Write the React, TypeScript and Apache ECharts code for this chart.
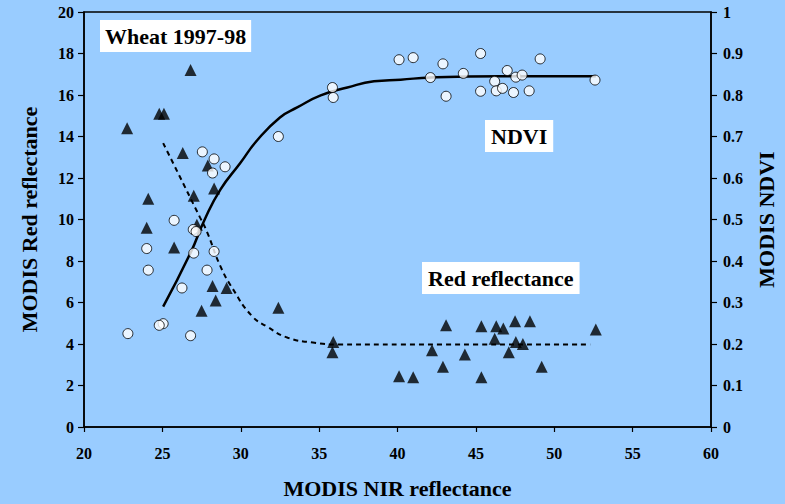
import React, { useEffect, useRef } from "react";
import * as echarts from "echarts";

// Red reflectance (triangles), left axis: [NIR, Red]
const redPoints: [number, number][] = [
  [22.75, 14.4], [24.8, 15.1], [25.1, 15.1], [26.8, 17.2], [24.1, 11.0],
  [24.0, 9.6], [26.3, 13.2], [25.75, 8.65], [27.9, 12.6], [28.3, 11.5],
  [27.0, 11.15], [27.2, 9.75], [28.2, 6.8], [29.1, 6.7], [28.4, 6.1],
  [27.5, 5.6], [32.4, 5.75], [35.9, 4.1], [35.85, 3.6], [40.1, 2.45],
  [41.0, 2.4], [42.2, 3.7], [43.1, 4.9], [42.9, 2.9], [44.3, 3.5],
  [45.35, 4.85], [45.35, 2.4], [46.2, 4.25], [46.3, 4.85], [46.75, 4.75],
  [47.1, 3.6], [47.5, 5.1], [47.55, 4.1], [48.0, 4.0], [48.45, 5.1],
  [49.2, 2.9], [52.65, 4.7],
];

// NDVI (circles), right axis: [NIR, NDVI]
const ndviPoints: [number, number][] = [
  [40.1, 0.885], [35.85, 0.818], [35.9, 0.794], [32.4, 0.70], [27.55, 0.663],
  [28.3, 0.646], [29.0, 0.627], [28.2, 0.612], [25.75, 0.498], [26.97, 0.476],
  [27.15, 0.471], [24.0, 0.43], [27.0, 0.419], [28.3, 0.423], [24.1, 0.378],
  [27.85, 0.378], [26.25, 0.335], [25.05, 0.249], [24.8, 0.245], [22.8, 0.225],
  [26.8, 0.22], [41.0, 0.89], [42.9, 0.875], [42.1, 0.842], [43.1, 0.797],
  [44.2, 0.852], [45.3, 0.90], [45.3, 0.809], [46.2, 0.833], [46.3, 0.81],
  [46.7, 0.816], [47.0, 0.859], [47.4, 0.806], [47.55, 0.843], [47.95, 0.848],
  [48.4, 0.81], [49.1, 0.887], [52.6, 0.836],
];

// NDVI fitted curve (solid), right axis
const ndviFit: [number, number][] = [
  [25.05, 0.29], [26.8, 0.42], [27.7, 0.50], [28.7, 0.572], [29.97, 0.636],
  [31.05, 0.691], [32.5, 0.746], [33.6, 0.77], [35.1, 0.799], [36.8, 0.818],
  [38.5, 0.833], [40.2, 0.837], [42.1, 0.842], [46.6, 0.845], [52.65, 0.845],
];

// Red reflectance fitted curve (dashed), left axis
const redFit: [number, number][] = [
  [25.05, 13.68], [27.4, 10.1], [27.86, 9.38], [28.7, 7.75], [29.5, 6.65],
  [30.7, 5.36], [31.7, 4.83], [33.0, 4.3], [34.6, 4.07], [36.35, 3.97],
  [40.2, 3.97], [52.3, 3.97],
];

const xTitle = "MODIS NIR reflectance";
const yLeftTitle = "MODIS Red reflectance";
const yRightTitle = "MODIS NDVI";
const labelWheat = "Wheat 1997-98";
const labelNdvi = "NDVI";
const labelRed = "Red reflectance";

const FONT = "'Liberation Serif', 'Times New Roman', serif";

export default function App() {
  const ref = useRef<HTMLDivElement>(null);

  useEffect(() => {
    document.body.style.margin = "0";
    if (!ref.current) return;
    const chart = echarts.init(ref.current, undefined, { renderer: "svg" });
    const axisLabel = {
      fontFamily: FONT,
      fontWeight: "bold" as const,
      fontSize: 16,
      color: "#000",
    };
    const nameStyle = {
      fontFamily: FONT,
      fontWeight: "bold" as const,
      fontSize: 22,
      color: "#000",
    };
    const axisLine = { show: true, lineStyle: { color: "#000", width: 1.5 } };
    const boxFont = `bold 22px ${FONT}`;
    chart.setOption({
      animation: false,
      backgroundColor: "#99CCFF",
      grid: {
        left: 84,
        right: 74,
        top: 12,
        bottom: 72,
        show: true,
        borderColor: "#000",
        borderWidth: 1.5,
        backgroundColor: "transparent",
      },
      xAxis: {
        type: "value",
        min: 20,
        max: 60,
        interval: 5,
        name: xTitle,
        nameLocation: "middle",
        nameGap: 50,
        nameTextStyle: nameStyle,
        axisLine,
        axisTick: { show: true, length: 5, lineStyle: { color: "#000", width: 1.2 } },
        axisLabel: { ...axisLabel, margin: 18 },
        splitLine: { show: false },
      },
      yAxis: [
        {
          type: "value",
          min: 0,
          max: 20,
          interval: 2,
          name: yLeftTitle,
          nameLocation: "middle",
          nameGap: 44,
          nameTextStyle: nameStyle,
          axisLine,
          axisTick: { show: true, length: 6, lineStyle: { color: "#000", width: 1.2 } },
          axisLabel: { ...axisLabel, margin: 10 },
          splitLine: { show: false },
        },
        {
          type: "value",
          min: 0,
          max: 1,
          interval: 0.1,
          position: "right",
          name: yRightTitle,
          nameLocation: "middle",
          nameGap: 44,
          nameRotate: 90,
          nameTextStyle: nameStyle,
          axisLine,
          axisTick: { show: true, length: 6, lineStyle: { color: "#000", width: 1.2 } },
          axisLabel: { ...axisLabel, margin: 12 },
          splitLine: { show: false },
        },
      ],
      series: [
        {
          type: "line",
          yAxisIndex: 1,
          data: ndviFit,
          smooth: true,
          showSymbol: false,
          symbol: "none",
          lineStyle: { color: "#000", width: 2.5 },
          z: 2,
        },
        {
          type: "line",
          yAxisIndex: 0,
          data: redFit,
          smooth: true,
          showSymbol: false,
          symbol: "none",
          lineStyle: { color: "#000", width: 2, type: [5, 4] },
          z: 2,
        },
        {
          type: "scatter",
          yAxisIndex: 0,
          data: redPoints,
          symbol: "triangle",
          symbolSize: 12,
          itemStyle: { color: "#000" },
          z: 3,
        },
        {
          type: "scatter",
          yAxisIndex: 1,
          data: ndviPoints,
          symbol: "circle",
          symbolSize: 10,
          itemStyle: { color: "#fff", borderColor: "#000", borderWidth: 1 },
          z: 4,
        },
      ],
      graphic: [
        {
          type: "text",
          left: 100,
          top: 20,
          style: {
            text: labelWheat,
            font: boxFont,
            fill: "#000",
            backgroundColor: "#fff",
            padding: [5, 5, 5, 5],
          },
          z: 10,
        },
        {
          type: "text",
          left: 485,
          top: 120,
          style: {
            text: labelNdvi,
            font: boxFont,
            fill: "#000",
            backgroundColor: "#fff",
            padding: [5, 6, 5, 6],
          },
          z: 10,
        },
        {
          type: "text",
          left: 422,
          top: 262,
          style: {
            text: labelRed,
            font: boxFont,
            fill: "#000",
            backgroundColor: "#fff",
            padding: [5, 6, 5, 6],
          },
          z: 10,
        },
      ],
    });
    return () => chart.dispose();
  }, []);

  return (
    <div
      ref={ref}
      style={{ position: "absolute", left: 0, top: 0, width: 785, height: 504 }}
    />
  );
}
